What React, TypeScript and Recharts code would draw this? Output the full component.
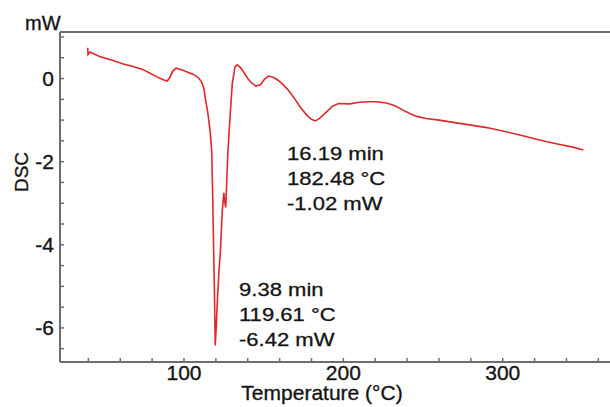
import { Label, Line, LineChart, ReferenceLine, XAxis, YAxis } from 'recharts'

// DSC trace, temperature (°C) vs heat flow (mW)
const temperature = [
  39.6, 39.8, 41, 47, 55, 62, 68, 74, 79, 83, 87, 89.5, 91, 93, 95, 98, 102, 106, 109, 111,
  112.5, 113.5, 115, 116.5, 117.4, 118, 118.4, 119, 119.61, 120.2, 121, 122, 122.8, 124, 125,
  125.5, 126.2, 126.8, 127.5, 128.9, 130.3, 132, 133.3, 135, 137, 140, 142, 145, 148, 150.5,
  153, 156, 159, 162, 165, 169, 173, 177, 180, 182.48, 185, 189.5, 193, 197, 204, 210, 215,
  221, 227, 232, 236, 241, 246, 252, 260, 270, 280, 290, 302, 312, 323, 335, 344, 350.5,
]
const heatFlow = [
  0.74, 0.58, 0.64, 0.53, 0.44, 0.35, 0.29, 0.22, 0.12, 0.04, -0.03, -0.06, 0.02, 0.18, 0.25,
  0.22, 0.16, 0.1, 0.02, -0.08, -0.24, -0.5, -0.84, -1.3, -1.75, -2.8, -3.7, -4.9, -6.42, -6.0,
  -5.3, -4.6, -4.2, -3.2, -2.75, -2.95, -3.1, -2.5, -1.8, -0.92, -0.12, 0.28, 0.33, 0.28, 0.18,
  0.0, -0.09, -0.18, -0.15, -0.02, 0.06, 0.03, -0.04, -0.14, -0.26, -0.46, -0.69, -0.88, -0.98,
  -1.02, -0.96, -0.8, -0.67, -0.6, -0.61, -0.57, -0.56, -0.56, -0.59, -0.65, -0.73, -0.83,
  -0.91, -0.96, -1.0, -1.06, -1.12, -1.18, -1.28, -1.37, -1.48, -1.58, -1.65, -1.72,
]

const xTicks = [40, 60, 80, 100, 120, 140, 160, 180, 200, 220, 240, 260, 280, 300, 320, 340, 360]
const yTicks = [-6.5, -6, -5.5, -5, -4.5, -4, -3.5, -3, -2.5, -2, -1.5, -1, -0.5, 0, 0.5, 1]
const xMajor = [100, 200, 300]
const yMajor = [-6, -4, -2, 0]

const annotations = [
  { left: 287, top: 141, lines: ['16.19 min', '182.48 °C', '-1.02 mW'] },
  { left: 239, top: 277, lines: ['9.38 min', '119.61 °C', '-6.42 mW'] },
]

const X_MIN = 22.2
const X_MAX = 367.3
const Y_MIN = -6.82
const Y_MAX = 1.12

const data = temperature.map((t, i) => ({ t, dsc: heatFlow[i] }))

const FONT = '"Liberation Sans", Arial, sans-serif'
const AXIS = '#6e6e6e'
const INK = '#151515'
// a thin outline makes the glyphs as heavy as the scanned ones
const heavy = { stroke: INK, strokeWidth: 0.35 }

function XTick({ x, y, payload }: any) {
  const v = payload.value
  return (
    <g>
      <line x1={x} y1={y} x2={x} y2={y - 4} stroke={AXIS} strokeWidth={1.5} />
      {xMajor.includes(v) ? (
        <text x={x} y={y + 18} textAnchor="middle" fontSize={21} fontFamily={FONT} fill={INK} {...heavy}>
          {v}
        </text>
      ) : null}
    </g>
  )
}

function YTick({ x, y, payload }: any) {
  const v = payload.value
  return (
    <g>
      <line x1={x} y1={y} x2={x + 4} y2={y} stroke={AXIS} strokeWidth={1.5} />
      {yMajor.includes(v) ? (
        <text x={x - 6} y={y + 7} textAnchor="end" fontSize={21} fontFamily={FONT} fill={INK} {...heavy}>
          {v}
        </text>
      ) : null}
    </g>
  )
}

export default function App() {
  return (
    <div style={{ position: 'absolute', left: 0, top: 0, width: 610, height: 407, background: '#fff' }}>
      <LineChart width={610} height={407} data={data} margin={{ top: 32, right: 0, bottom: 0, left: 0 }}>
        <XAxis
          type="number"
          dataKey="t"
          domain={[X_MIN, X_MAX]}
          allowDataOverflow
          ticks={xTicks}
          interval={0}
          height={45}
          tickSize={0}
          tickMargin={0}
          tickLine={false}
          tick={<XTick />}
          axisLine={{ stroke: AXIS, strokeWidth: 2 }}
        >
          <Label
            content={({ viewBox }: any) => (
              <text
                x={viewBox.x + viewBox.width / 2 - 13}
                y={viewBox.y + 38}
                textAnchor="middle"
                fontSize={21}
                fontFamily={FONT}
                fill={INK}
                {...heavy}
              >
                Temperature (°C)
              </text>
            )}
          />
        </XAxis>
        <YAxis
          type="number"
          domain={[Y_MIN, Y_MAX]}
          allowDataOverflow
          ticks={yTicks}
          interval={0}
          width={60}
          tickSize={0}
          tickMargin={0}
          tickLine={false}
          tick={<YTick />}
          axisLine={{ stroke: AXIS, strokeWidth: 2 }}
        >
          <Label
            content={() => (
              <g fontFamily={FONT} fill={INK} {...heavy}>
                <text x={25} y={30} fontSize={20}>
                  mW
                </text>
                <text
                  x={21}
                  y={172}
                  fontSize={19}
                  textAnchor="middle"
                  dominantBaseline="central"
                  transform="rotate(-90 21 172)"
                >
                  DSC
                </text>
              </g>
            )}
          />
        </YAxis>
        <ReferenceLine y={Y_MAX} stroke={AXIS} strokeWidth={2} ifOverflow="visible" />
        <Line
          type="linear"
          dataKey="dsc"
          stroke="#e0282a"
          strokeWidth={1.6}
          dot={false}
          activeDot={false}
          isAnimationActive={false}
        />
      </LineChart>
      {annotations.map((a) => (
        <div
          key={a.lines[0]}
          style={{
            position: 'absolute',
            left: a.left,
            top: a.top,
            fontFamily: FONT,
            fontSize: 19,
            lineHeight: '25px',
            color: INK,
            WebkitTextStroke: '0.3px #151515',
            whiteSpace: 'nowrap',
            transform: 'scaleX(1.16)',
            transformOrigin: 'left top',
          }}
        >
          {a.lines.map((l) => (
            <div key={l}>{l}</div>
          ))}
        </div>
      ))}
    </div>
  )
}
